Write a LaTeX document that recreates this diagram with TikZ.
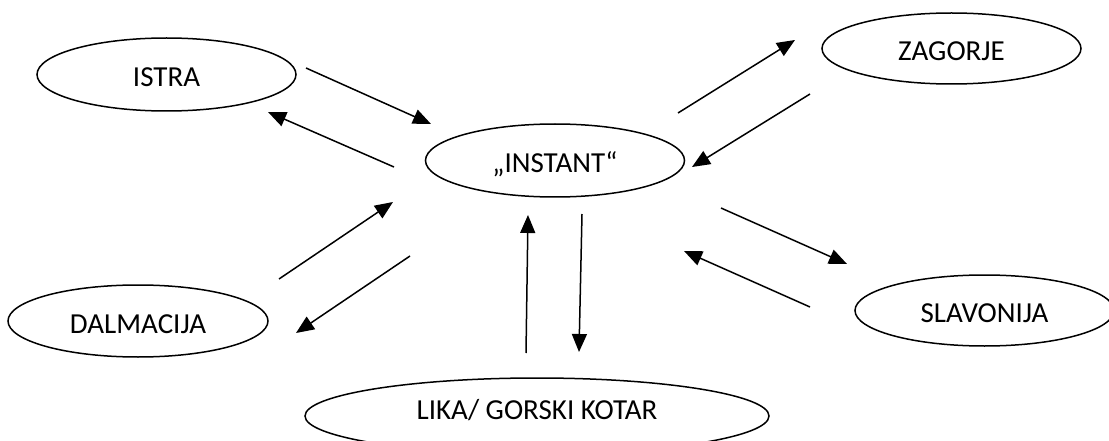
\documentclass[tikz,border=0pt]{standalone}
\usepackage{fontspec}
\setmainfont{Carlito}
\usetikzlibrary{shapes.geometric,arrows.meta}
\begin{document}
\begin{tikzpicture}[x=1pt,y=-1pt,
  region/.style={draw, line width=1.5pt, ellipse, inner sep=0pt,
    font=\fontsize{29}{34}\selectfont, text height=24pt, text depth=0pt},
  flow/.style={line width=1.5pt, -{Triangle[length=18pt,width=15pt]}}]
\useasboundingbox (0,0) rectangle (1109,441);
% regions
\node[region, minimum width=259pt, minimum height=73pt] (istra) at (166.5,74.5) {ISTRA};
\node[region, minimum width=259pt, minimum height=73pt] (instant) at (555,160.5) {„INSTANT“};
\node[region, minimum width=259pt, minimum height=71pt] (zagorje) at (951.5,48.5) {ZAGORJE};
\node[region, minimum width=260pt, minimum height=72pt] (dalmacija) at (138,321) {DALMACIJA};
\node[region, minimum width=259pt, minimum height=71pt] (slavonija) at (984.5,310.5) {SLAVONIJA};
\node[region, minimum width=464pt, minimum height=76pt, text height=18pt, text depth=12pt] (lika) at (537,416) {LIKA/ GORSKI KOTAR};
% connector end points
\coordinate (a1) at (306,68);   \coordinate (b1) at (431,124);
\coordinate (a2) at (394,167);  \coordinate (b2) at (268,112);
\coordinate (a3) at (279,279);  \coordinate (b3) at (393,202);
\coordinate (a4) at (410,256);  \coordinate (b4) at (296,333);
\coordinate (a5) at (526,353);  \coordinate (b5) at (528,215);
\coordinate (a6) at (582,214);  \coordinate (b6) at (579,352);
\coordinate (a7) at (678,113);  \coordinate (b7) at (795,40);
\coordinate (a8) at (810,94);   \coordinate (b8) at (692,167);
\coordinate (a9) at (721,208);  \coordinate (b9) at (847,264);
\coordinate (a10) at (810,307); \coordinate (b10) at (684,251);
% connectors
\draw[flow] (a1) -- (b1);
\draw[flow] (a2) -- (b2);
\draw[flow] (a3) -- (b3);
\draw[flow] (a4) -- (b4);
\draw[flow] (a5) -- (b5);
\draw[flow] (a6) -- (b6);
\draw[flow] (a7) -- (b7);
\draw[flow] (a8) -- (b8);
\draw[flow] (a9) -- (b9);
\draw[flow] (a10) -- (b10);
\end{tikzpicture}
\end{document}
